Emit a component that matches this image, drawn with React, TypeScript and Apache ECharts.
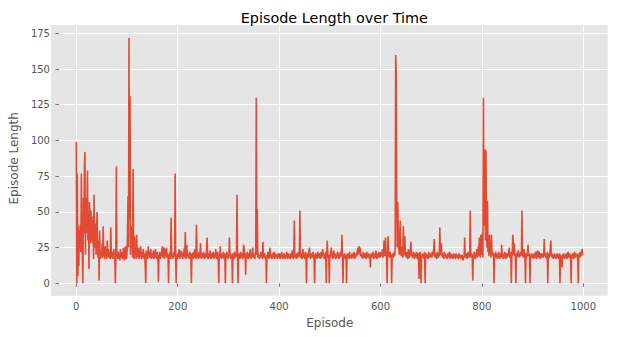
import React, { useEffect, useRef } from "react";
import * as echarts from "echarts";

// Episode length for episodes 0..999
const episodeLengths: number[] = [
  // 0-49
  99, 0, 77, 5, 40, 12, 37, 25, 41, 22, 77, 30, 20, 0, 60, 35, 80, 92, 20, 60,
  35, 45, 79, 30, 45, 10, 57, 40, 28, 51, 30, 44, 28, 47, 17, 62, 30, 25, 42, 20,
  36, 50, 24, 18, 30, 2, 37, 20, 17, 22,
  // 50-99
  19, 28, 18, 40, 22, 20, 17, 26, 19, 21, 17, 30, 20, 24, 18, 22, 20, 17, 39, 21,
  18, 22, 17, 20, 24, 19, 21, 0, 18, 82, 19, 21, 17, 22, 18, 20, 16, 24, 19, 18,
  22, 17, 21, 25, 18, 16, 20, 26, 19, 17,
  // 100-149
  22, 34, 61, 25, 172, 45, 131, 20, 35, 25, 40, 18, 80, 22, 17, 33, 20, 24, 17, 34,
  19, 22, 18, 25, 17, 21, 20, 26, 19, 17, 22, 18, 24, 20, 17, 21, 12, 0, 23, 18,
  21, 17, 26, 19, 22, 18, 20, 24, 17, 21,
  // 150-199
  20, 18, 23, 17, 21, 19, 24, 18, 20, 17, 22, 19, 1, 20, 18, 22, 17, 21, 19, 24,
  26, 18, 22, 25, 17, 20, 24, 19, 25, 18, 21, 19, 0, 20, 18, 22, 17, 46, 19, 21,
  17, 20, 18, 22, 19, 77, 18, 0, 20, 17,
  // 200-249
  21, 18, 20, 24, 17, 21, 19, 23, 18, 20, 17, 22, 19, 25, 18, 36, 20, 17, 27, 19,
  21, 18, 20, 17, 22, 19, 18, 0, 21, 19, 17, 22, 20, 18, 24, 19, 17, 41, 21, 18,
  20, 17, 22, 19, 18, 28, 20, 17, 21, 19,
  // 250-299
  18, 22, 19, 17, 21, 20, 18, 24, 32, 19, 17, 21, 18, 20, 23, 19, 17, 21, 18, 20,
  22, 17, 19, 21, 18, 24, 20, 17, 19, 22, 18, 0, 20, 19, 26, 18, 21, 17, 20, 18,
  22, 19, 17, 21, 0, 20, 18, 22, 19, 17,
  // 300-349
  20, 18, 32, 19, 21, 17, 20, 18, 0, 21, 19, 17, 22, 20, 18, 21, 19, 62, 20, 0,
  18, 21, 19, 17, 22, 20, 18, 21, 17, 19, 27, 25, 18, 21, 6, 20, 18, 22, 19, 17,
  21, 18, 20, 24, 19, 17, 21, 20, 25, 18,
  // 350-399
  20, 19, 17, 21, 22, 130, 20, 52, 18, 21, 19, 17, 20, 18, 22, 19, 21, 17, 29, 19,
  18, 21, 20, 17, 19, 0, 20, 18, 22, 19, 17, 21, 25, 18, 20, 19, 17, 21, 18, 20,
  22, 19, 17, 21, 18, 19, 20, 17, 21, 18,
  // 400-449
  19, 21, 17, 20, 18, 22, 19, 17, 20, 18, 21, 19, 17, 20, 18, 22, 19, 17, 21, 18,
  20, 19, 17, 21, 18, 20, 23, 19, 17, 21, 44, 19, 18, 20, 17, 21, 19, 18, 22, 19,
  20, 51, 18, 21, 19, 17, 20, 24, 18, 21,
  // 450-499
  19, 17, 22, 20, 0, 19, 21, 18, 20, 23, 25, 19, 17, 21, 18, 20, 19, 22, 17, 20,
  0, 19, 21, 18, 20, 17, 22, 19, 18, 21, 20, 17, 19, 22, 18, 20, 24, 19, 21, 17,
  20, 18, 22, 0, 19, 30, 21, 18, 20, 0,
  // 500-549
  20, 18, 22, 25, 19, 21, 17, 20, 23, 18, 21, 19, 17, 20, 18, 22, 19, 21, 17, 20,
  18, 22, 19, 21, 34, 18, 0, 20, 19, 21, 18, 17, 20, 0, 19, 21, 18, 20, 17, 22,
  19, 18, 20, 17, 21, 19, 18, 20, 22, 17,
  // 550-599
  20, 18, 21, 19, 22, 24, 25, 20, 26, 22, 25, 19, 21, 18, 20, 17, 22, 19, 18, 21,
  20, 17, 19, 22, 18, 20, 19, 21, 17, 20, 11, 19, 21, 18, 20, 22, 19, 17, 21, 18,
  20, 23, 19, 17, 21, 18, 20, 22, 19, 18,
  // 600-649
  20, 22, 19, 21, 24, 18, 20, 30, 19, 22, 32, 20, 18, 0, 21, 33, 19, 20, 18, 22,
  19, 20, 0, 19, 21, 18, 20, 22, 19, 25, 160, 148, 57, 25, 57, 40, 24, 20, 30, 44,
  22, 19, 26, 21, 18, 40, 24, 20, 33, 19,
  // 650-699
  21, 18, 22, 19, 17, 24, 20, 18, 21, 23, 29, 19, 21, 18, 20, 22, 19, 17, 21, 20,
  18, 22, 19, 17, 20, 21, 3, 19, 22, 18, 0, 20, 19, 21, 18, 20, 17, 22, 0, 19,
  21, 18, 20, 19, 17, 22, 20, 18, 21, 19,
  // 700-749
  20, 18, 22, 19, 21, 24, 31, 20, 18, 21, 19, 17, 22, 20, 18, 21, 19, 39, 22, 20,
  28, 19, 21, 18, 20, 17, 22, 19, 21, 18, 20, 17, 19, 21, 18, 20, 22, 19, 17, 21,
  18, 20, 19, 17, 21, 18, 20, 19, 17, 21,
  // 750-799
  19, 18, 20, 17, 19, 21, 18, 20, 17, 19, 18, 20, 17, 16, 19, 18, 32, 20, 18, 21,
  19, 17, 20, 22, 19, 18, 21, 51, 20, 18, 21, 19, 2, 20, 18, 22, 19, 17, 21, 20,
  24, 18, 20, 26, 19, 32, 21, 18, 34, 22,
  // 800-849
  20, 35, 18, 130, 40, 60, 94, 30, 93, 40, 25, 58, 22, 30, 19, 34, 21, 25, 18, 34,
  20, 22, 19, 21, 0, 20, 18, 22, 19, 21, 17, 20, 18, 22, 19, 17, 21, 20, 18, 27,
  19, 21, 17, 20, 18, 22, 19, 17, 21, 20,
  // 850-899
  18, 21, 19, 22, 25, 18, 20, 22, 0, 19, 21, 34, 26, 20, 28, 19, 21, 0, 20, 18,
  22, 19, 23, 20, 18, 21, 19, 22, 20, 51, 19, 21, 18, 24, 20, 19, 0, 21, 18, 20,
  22, 27, 19, 21, 18, 0, 20, 19, 21, 18,
  // 900-949
  20, 19, 17, 21, 18, 20, 22, 19, 17, 21, 23, 20, 18, 22, 19, 17, 21, 20, 18, 19,
  21, 18, 20, 31, 19, 21, 18, 20, 17, 22, 0, 19, 21, 18, 20, 26, 30, 19, 21, 18,
  20, 17, 19, 21, 18, 20, 17, 19, 21, 18,
  // 950-999
  20, 19, 17, 21, 0, 20, 18, 19, 11, 20, 18, 21, 19, 17, 20, 18, 21, 19, 17, 20,
  22, 19, 18, 21, 19, 17, 0, 20, 18, 21, 19, 17, 20, 22, 18, 20, 19, 21, 18, 20,
  0, 19, 21, 18, 22, 20, 19, 23, 24, 20,
];

const xTickStep = 200;
const xTickMax = 1000;
const yTickStep = 25;
const yTickMax = 175;

const chartTitle = "Episode Length over Time";
const xAxisTitle = "Episode";
const yAxisTitle = "Episode Length";

const FONT = "DejaVu Sans";
const TICK_COLOR = "#555555";

export default function App() {
  const ref = useRef<HTMLDivElement>(null);

  useEffect(() => {
    if (!ref.current) return;
    const chart = echarts.init(ref.current, null, { renderer: "svg" });
    const data = episodeLengths.map((v, i) => [i, v]);

    const tickStyle = {
      show: true,
      inside: false,
      length: 3.5,
      lineStyle: { color: TICK_COLOR, width: 0.8 },
    };
    const labelStyle = {
      color: TICK_COLOR,
      fontSize: 10,
      fontFamily: FONT,
      formatter: (v: number) => String(v),
    };

    chart.setOption({
      animation: false,
      backgroundColor: "#ffffff",
      textStyle: { fontFamily: FONT },
      title: {
        text: chartTitle,
        left: 329.3,
        top: 6,
        textAlign: "center",
        textStyle: { fontSize: 14.4, fontWeight: "normal", color: "#000000", fontFamily: FONT },
      },
      graphic: [
        {
          type: "rect",
          z: -100,
          silent: true,
          shape: { x: 51, y: 25, width: 556.7, height: 270.7 },
          style: { fill: "#E5E5E5" },
        },
      ],
      grid: [
        { left: 76.3, right: 35.7, top: 25, bottom: 41.3 },
        { left: 51, right: 11.3, top: 33.3, bottom: 53.7 },
      ],
      xAxis: [
        {
          gridIndex: 0,
          type: "value",
          min: 0,
          max: xTickMax,
          interval: xTickStep,
          axisLine: { show: false },
          axisTick: tickStyle,
          axisLabel: { ...labelStyle, margin: 6 },
          splitLine: { show: true, lineStyle: { color: "#ffffff", width: 1 } },
          name: xAxisTitle,
          nameLocation: "middle",
          nameGap: 21,
          nameTextStyle: { color: TICK_COLOR, fontSize: 12, fontFamily: FONT },
        },
        { gridIndex: 1, type: "value", min: 0, max: 1, show: false },
      ],
      yAxis: [
        { gridIndex: 0, type: "value", min: -8.7, max: 181, show: false },
        {
          gridIndex: 1,
          type: "value",
          min: 0,
          max: yTickMax,
          interval: yTickStep,
          axisLine: { show: false },
          axisTick: tickStyle,
          axisLabel: { ...labelStyle, margin: 9 },
          splitLine: { show: true, lineStyle: { color: "#ffffff", width: 1 } },
          name: yAxisTitle,
          nameLocation: "middle",
          nameGap: 32,
          nameTextStyle: { color: TICK_COLOR, fontSize: 12, fontFamily: FONT },
        },
      ],
      series: [
        {
          type: "line",
          xAxisIndex: 0,
          yAxisIndex: 0,
          data,
          showSymbol: false,
          symbol: "none",
          clip: false,
          z: 3,
          lineStyle: { color: "#E24A33", width: 1.6 },
          itemStyle: { color: "#E24A33" },
        },
      ],
    });

    return () => chart.dispose();
  }, []);

  return (
    <div
      ref={ref}
      style={{ position: "fixed", left: 0, top: 0, width: 619, height: 337 }}
    />
  );
}
